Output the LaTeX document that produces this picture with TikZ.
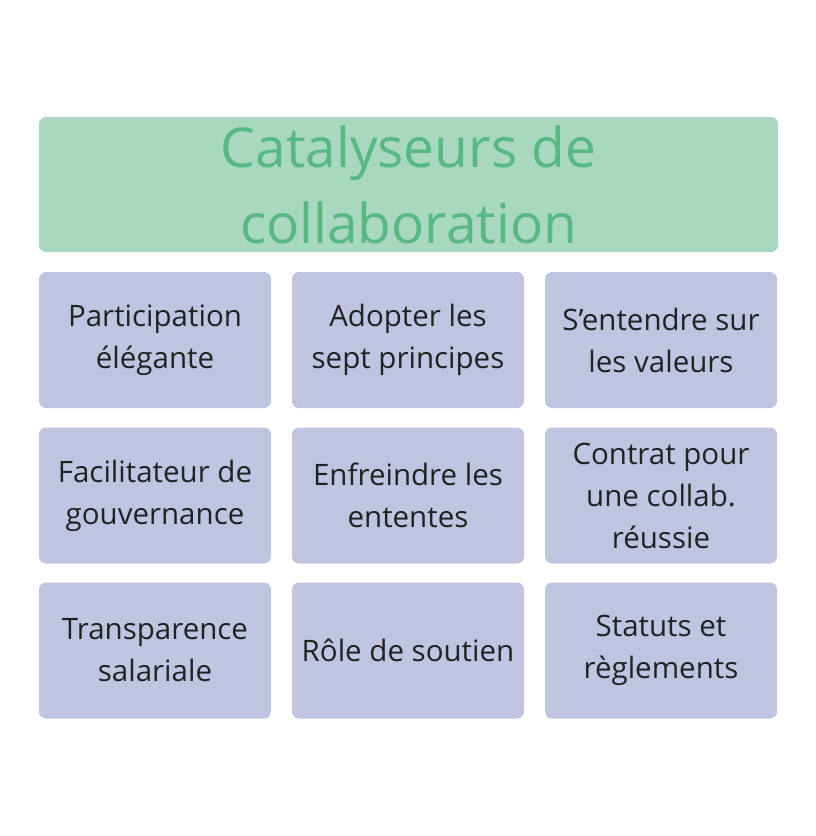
\documentclass[tikz,border=0pt]{standalone}
\usepackage{fontspec}
\setmainfont{Open Sans}
\usepackage{tikz}
\usetikzlibrary{positioning}
\definecolor{ctgreenfill}{RGB}{168,216,192}
\definecolor{ctgreentext}{RGB}{87,184,132}
\definecolor{ctbluefill}{RGB}{191,197,224}
\definecolor{cttext}{RGB}{34,34,34}
\tikzset{
  cell/.style={fill=ctbluefill, rounded corners=7pt, minimum width=232pt, minimum height=136pt,
    align=center, text=cttext, font=\fontsize{29.5}{42}\selectfont, inner sep=0pt},
  titlebox/.style={fill=ctgreenfill, rounded corners=7pt, minimum width=739pt, minimum height=135pt,
    align=center, text=ctgreentext, font=\fontsize{55}{76}\selectfont, inner sep=0pt}
}

\begin{document}
\begin{tikzpicture}[x=1pt,y=-1pt]
\useasboundingbox (0,0) rectangle (816,836);
% Title
\node[titlebox] (title) at (408.5,184.5) {Catalyseurs de\\collaboration};
% First row
\node[cell] (elegant) at (155,340) {Participation\\élégante};
\node[cell] (sept) at (408,340) {Adopter les\\sept principes};
\node[cell] (valeurs) at (661,340) {S’entendre sur\\les valeurs};
% Second row
\node[cell] (facil) at (155,495.5) {Facilitateur de\\gouvernance};
\node[cell] (ententes) at (408,495.5) {Enfreindre les\\ententes};
\node[cell] (contrat) at (661,495.5) {Contrat pour\\une collab.\\réussie};
% Third row
\node[cell] (salaire) at (155,650.5) {Transparence\\salariale};
\node[cell] (soutien) at (408,650.5) {Rôle de soutien};
\node[cell] (statuts) at (661,650.5) {Statuts et\\règlements};
\end{tikzpicture}
\end{document}
